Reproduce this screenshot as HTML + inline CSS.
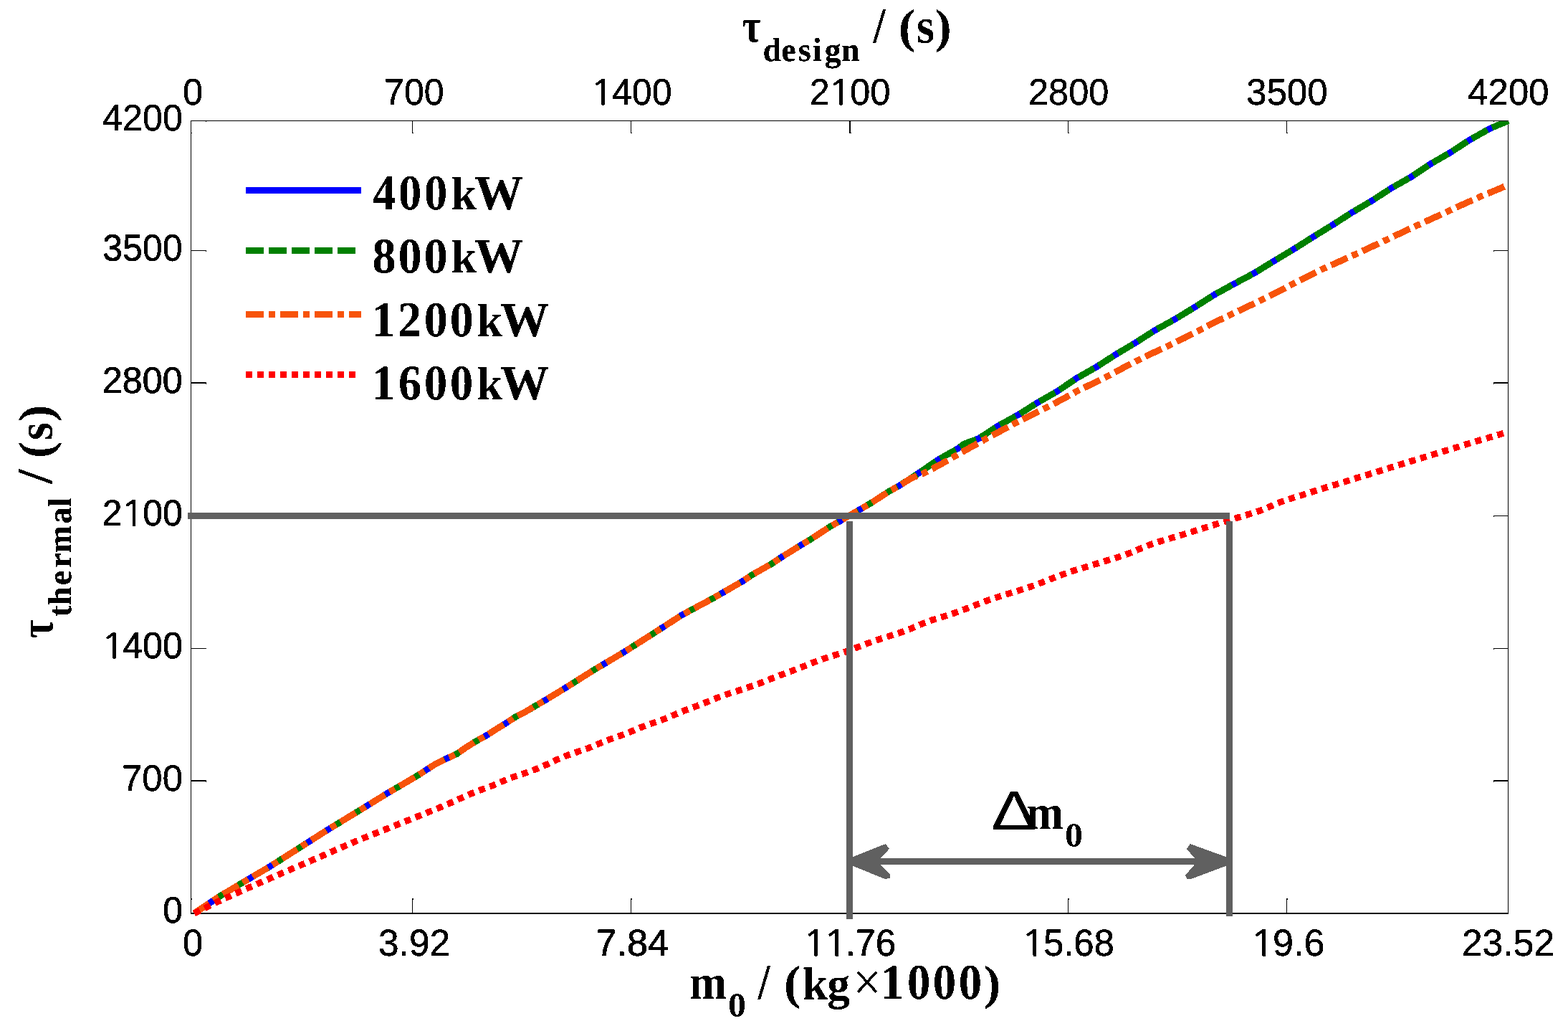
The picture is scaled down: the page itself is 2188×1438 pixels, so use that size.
<!DOCTYPE html>
<html lang="en"><head><meta charset="utf-8"><title>Thermal time vs mass</title>
<style>html,body{margin:0;padding:0;background:#fff}body{width:2188px;height:1438px;overflow:hidden}svg{display:block}</style></head>
<body>
<svg xmlns="http://www.w3.org/2000/svg" width="2188" height="1438" viewBox="0 0 2188 1438">
<defs><clipPath id="cp"><rect x="255" y="169" width="1851.3" height="1120"/></clipPath><filter id="th" x="-5%" y="-5%" width="110%" height="110%"><feComponentTransfer><feFuncA type="discrete" tableValues="0 1"/></feComponentTransfer></filter><filter id="tb" x="-10%" y="-10%" width="120%" height="120%"><feGaussianBlur stdDeviation="0.8"/><feComponentTransfer><feFuncA type="discrete" tableValues="0 1 1 1"/></feComponentTransfer></filter><filter id="tc" x="-10%" y="-10%" width="120%" height="120%"><feGaussianBlur stdDeviation="0.6"/><feComponentTransfer><feFuncA type="discrete" tableValues="0 1 1"/></feComponentTransfer></filter></defs>
<rect width="2188" height="1438" fill="#fff"/>
<g fill="#000" shape-rendering="crispEdges">
<rect x="266" y="168" width="1839" height="1"/>
<rect x="266" y="168" width="1" height="1106"/>
<rect x="2104" y="168" width="1" height="1107"/>
<rect x="266" y="1273" width="1839" height="2"/>
<rect x="575" y="169" width="1" height="17"/>
<rect x="576" y="185" width="1" height="1"/>
<rect x="575" y="1253" width="1" height="20"/>
<rect x="576" y="1253" width="1" height="2"/>
<rect x="880" y="169" width="1" height="17"/>
<rect x="881" y="185" width="1" height="1"/>
<rect x="880" y="1253" width="1" height="20"/>
<rect x="881" y="1253" width="1" height="2"/>
<rect x="1185" y="169" width="2" height="17"/>
<rect x="1187" y="185" width="1" height="1"/>
<rect x="1185" y="1253" width="2" height="20"/>
<rect x="1187" y="1253" width="1" height="2"/>
<rect x="1490" y="169" width="1" height="17"/>
<rect x="1491" y="185" width="1" height="1"/>
<rect x="1490" y="1253" width="1" height="20"/>
<rect x="1491" y="1253" width="1" height="2"/>
<rect x="1795" y="169" width="1" height="17"/>
<rect x="1796" y="185" width="1" height="1"/>
<rect x="1795" y="1253" width="1" height="20"/>
<rect x="1796" y="1253" width="1" height="2"/>
<rect x="267" y="185" width="1" height="1"/>
<rect x="267" y="1253" width="1" height="2"/>
<rect x="287" y="169" width="1" height="1"/>
<rect x="2084" y="169" width="1" height="1"/>
<rect x="267" y="349" width="21" height="1"/>
<rect x="287" y="350" width="1" height="1"/>
<rect x="2084" y="349" width="20" height="1"/>
<rect x="2084" y="350" width="1" height="1"/>
<rect x="267" y="533" width="21" height="2"/>
<rect x="287" y="535" width="1" height="1"/>
<rect x="2084" y="533" width="20" height="2"/>
<rect x="2084" y="535" width="1" height="1"/>
<rect x="267" y="719" width="21" height="1"/>
<rect x="287" y="720" width="1" height="1"/>
<rect x="2084" y="719" width="20" height="1"/>
<rect x="2084" y="720" width="1" height="1"/>
<rect x="267" y="904" width="21" height="1"/>
<rect x="2084" y="904" width="20" height="1"/>
<rect x="2084" y="905" width="1" height="1"/>
<rect x="267" y="1088" width="21" height="2"/>
<rect x="287" y="1090" width="1" height="1"/>
<rect x="2084" y="1088" width="20" height="2"/>
<rect x="2084" y="1090" width="1" height="1"/>
</g>
<g fill="none" stroke-width="9" stroke-linejoin="round" shape-rendering="crispEdges" clip-path="url(#cp)">
<polyline stroke="#0000ff" points="271.0,1273.8 307.6,1249.5 335.0,1233.1 377.0,1208.4 417.3,1182.8 457.5,1157.2 499.6,1131.6 539.8,1106.9 581.9,1082.2 607.5,1065.7 622.9,1058.1 637.2,1051.7 651.2,1041.9 664.4,1033.7 678.5,1026.0 691.5,1017.6 705.6,1009.0 718.9,1000.2 733.5,992.6 746.9,984.7 761.0,976.5 788.5,959.8 829.3,934.1 870.5,909.7 911.6,883.6 951.8,857.6 993.9,835.1 1035.7,811.0 1049.3,801.9 1076.7,786.4 1090.4,777.2 1117.9,760.2 1131.6,752.0 1158.1,734.6 1171.8,726.9 1200.2,710.5 1213.9,702.6 1241.3,684.9 1255.0,677.4 1282.5,659.6 1294.3,651.4 1309.0,641.3 1336.4,625.8 1345.6,619.0 1365.7,611.7 1393.1,593.8 1420.0,579.1 1447.6,561.7 1475.4,545.8 1501.9,527.8 1529.9,511.9 1556.9,494.5 1584.4,478.1 1611.6,460.7 1639.6,445.2 1667.4,428.3 1694.1,411.3 1722.3,395.8 1750.8,380.6 1777.8,364.0 1805.4,347.5 1832.8,330.2 1860.2,313.3 1886.7,296.3 1914.5,279.9 1941.4,262.5 1969.4,246.6 1996.3,228.6 2023.9,212.7 2050.5,195.3 2078.7,179.5 2090.8,174.3 2104.8,168.6"/>
<polyline stroke="#008000" stroke-dasharray="25.072 7.020" points="271.0,1273.8 307.6,1249.5 335.0,1233.1 377.0,1208.4 417.3,1182.8 457.5,1157.2 499.6,1131.6 539.8,1106.9 581.9,1082.2 607.5,1065.7 622.9,1058.1 637.2,1051.7 651.2,1041.9 664.4,1033.7 678.5,1026.0 691.5,1017.6 705.6,1009.0 718.9,1000.2 733.5,992.6 746.9,984.7 761.0,976.5 788.5,959.8 829.3,934.1 870.5,909.7 911.6,883.6 951.8,857.6 993.9,835.1 1035.7,811.0 1049.3,801.9 1076.7,786.4 1090.4,777.2 1117.9,760.2 1131.6,752.0 1158.1,734.6 1171.8,726.9 1200.2,710.5 1213.9,702.6 1241.3,684.9 1255.0,677.4 1282.5,659.6 1294.3,651.4 1309.0,641.3 1336.4,625.8 1345.6,619.0 1365.7,611.7 1393.1,593.8 1420.0,579.1 1447.6,561.7 1475.4,545.8 1501.9,527.8 1529.9,511.9 1556.9,494.5 1584.4,478.1 1611.6,460.7 1639.6,445.2 1667.4,428.3 1694.1,411.3 1722.3,395.8 1750.8,380.6 1777.8,364.0 1805.4,347.5 1832.8,330.2 1860.2,313.3 1886.7,296.3 1914.5,279.9 1941.4,262.5 1969.4,246.6 1996.3,228.6 2023.9,212.7 2050.5,195.3 2078.7,179.5 2090.8,174.3 2104.8,168.6 2109.0,166.9"/>
<polyline stroke="#f7530a" stroke-dasharray="25.052 7.015 9.019 7.015" points="271.0,1273.8 307.6,1249.5 335.0,1233.1 377.0,1208.4 417.3,1182.8 457.5,1157.2 499.6,1131.6 539.8,1106.9 581.9,1082.2 607.5,1065.7 622.9,1058.1 637.2,1051.7 651.2,1041.9 664.4,1033.7 678.5,1026.0 691.5,1017.6 705.6,1009.0 718.9,1000.2 733.5,992.6 746.9,984.7 761.0,976.5 788.5,959.8 829.3,934.1 870.5,909.7 911.6,883.6 951.8,857.6 993.9,835.1 1035.7,811.0 1049.3,801.9 1076.7,786.4 1090.4,777.2 1117.9,760.2 1131.6,752.0 1158.1,734.6 1171.8,726.9 1200.2,710.5 1213.9,702.6 1241.3,684.9 1255.0,677.4 1272.4,666.5 1290.7,659.3 1311.7,648.2 1332.8,636.1 1354.7,623.8 1375.7,612.2 1396.8,600.8 1417.2,590.0 1439.3,578.9 1460.4,568.5 1482.3,556.9 1502.4,545.9 1525.3,534.7 1546.3,524.4 1567.4,513.0 1588.4,502.1 1610.3,491.6 1631.9,481.5 1653.3,471.1 1674.9,459.9 1696.3,449.0 1718.2,438.4 1740.2,428.0 1761.8,417.8 1781.0,408.1 1803.9,396.1 1825.8,384.9 1846.9,374.7 1869.7,364.4 1891.3,354.7 1912.7,344.8 1934.7,334.5 1956.6,324.1 1978.6,313.9 2000.0,304.1 2022.5,293.9 2044.0,283.9 2066.4,273.9 2088.3,264.9 2100.6,259.6"/>
<polyline stroke="#ff0000" stroke-dasharray="9.013 7.010" points="271.0,1273.8 303.0,1258.1 333.2,1244.3 361.5,1231.8 391.7,1218.6 421.0,1206.1 450.2,1193.5 479.5,1180.6 508.7,1168.3 538.9,1156.4 569.1,1144.3 598.4,1132.5 612.8,1126.7 627.8,1120.3 642.4,1113.6 656.8,1107.2 671.9,1101.4 687.4,1095.7 701.7,1089.5 716.5,1083.6 732.1,1078.5 747.2,1073.1 761.9,1066.8 776.0,1060.1 790.6,1053.9 806.0,1048.6 821.7,1043.2 836.1,1037.2 850.6,1031.4 865.8,1026.0 881.1,1020.1 895.5,1014.1 910.6,1008.6 925.8,1003.3 940.6,997.1 955.0,991.1 970.4,985.5 985.8,979.4 1000.0,973.6 1015.5,968.0 1030.3,963.2 1045.7,958.2 1060.4,953.0 1075.9,946.8 1090.5,941.1 1105.7,935.5 1120.7,929.7 1135.3,923.8 1150.3,918.4 1165.5,913.6 1180.2,908.9 1196.1,902.9 1210.7,897.3 1226.4,891.8 1241.4,887.0 1257.0,882.1 1272.2,876.3 1286.2,870.3 1301.4,864.6 1316.8,859.9 1332.0,855.0 1347.1,849.4 1361.8,843.7 1376.8,838.0 1392.0,832.8 1407.4,828.0 1422.4,823.4 1438.0,818.3 1453.2,812.7 1468.2,806.8 1482.8,801.2 1498.0,796.0 1513.5,791.4 1528.5,786.8 1544.2,782.0 1559.6,777.3 1574.8,772.1 1589.4,766.0 1604.0,760.0 1619.2,754.9 1634.6,750.3 1650.3,745.7 1665.7,741.0 1680.9,736.1 1696.4,731.3 1711.0,726.9 1726.6,722.1 1742.5,717.3 1757.7,712.4 1772.1,706.5 1786.9,700.3 1802.4,695.0 1817.6,690.3 1832.8,685.4 1848.2,680.6 1863.7,675.9 1878.9,671.2 1894.1,666.4 1909.6,661.8 1925.0,657.0 1940.3,652.1 1955.7,647.4 1971.1,642.7 1986.4,638.0 2001.8,633.3 2017.0,628.7 2032.5,624.0 2047.7,619.2 2063.1,614.6 2078.6,610.0 2094.2,605.5 2100.6,603.6"/>
</g>
<g shape-rendering="crispEdges">
<rect x="343" y="261" width="161" height="9" fill="#0000ff"/>
<rect x="343" y="345" width="25" height="9" fill="#008000"/>
<rect x="375" y="345" width="25" height="9" fill="#008000"/>
<rect x="407" y="345" width="25" height="9" fill="#008000"/>
<rect x="439" y="345" width="25" height="9" fill="#008000"/>
<rect x="471" y="345" width="25" height="9" fill="#008000"/>
<rect x="343" y="434" width="25" height="9" fill="#f7530a"/>
<rect x="375" y="434" width="9" height="9" fill="#f7530a"/>
<rect x="391" y="434" width="25" height="9" fill="#f7530a"/>
<rect x="423" y="434" width="9" height="9" fill="#f7530a"/>
<rect x="439" y="434" width="25" height="9" fill="#f7530a"/>
<rect x="471" y="434" width="9" height="9" fill="#f7530a"/>
<rect x="487" y="434" width="17" height="9" fill="#f7530a"/>
<rect x="343" y="518" width="9" height="9" fill="#ff0000"/>
<rect x="359" y="518" width="9" height="9" fill="#ff0000"/>
<rect x="375" y="518" width="9" height="9" fill="#ff0000"/>
<rect x="391" y="518" width="9" height="9" fill="#ff0000"/>
<rect x="407" y="518" width="9" height="9" fill="#ff0000"/>
<rect x="423" y="518" width="9" height="9" fill="#ff0000"/>
<rect x="439" y="518" width="9" height="9" fill="#ff0000"/>
<rect x="455" y="518" width="9" height="9" fill="#ff0000"/>
<rect x="471" y="518" width="9" height="9" fill="#ff0000"/>
<rect x="487" y="518" width="9" height="9" fill="#ff0000"/>
</g>
<g fill="#606060" shape-rendering="crispEdges">
<rect x="262" y="715" width="1454" height="9"/>
<rect x="1181" y="727" width="9" height="555"/>
<rect x="1711" y="727" width="9" height="551"/>
<rect x="1215" y="1197" width="470" height="9"/>
<polygon points="1190,1195.2 1235.8,1177 1241,1183.9 1228.5,1197.3 1228.5,1205.6 1241.9,1219.2 1241.9,1225.1 1234.4,1225.8 1190,1207.7"/>
<polygon points="1711,1195.2 1660.6,1177 1656.1,1184.1 1667.2,1197.3 1667.2,1205.6 1654,1220.9 1656.1,1225.8 1662.7,1225.8 1711,1207.7"/>
</g>
<g font-size="100" fill="#000" style="font-kerning:none;text-rendering:geometricPrecision">
<text transform="matrix(0.5056 0.0003 0 0.5195 255.08 146.07)" font-family="'Liberation Sans', sans-serif" font-weight="normal" filter="url(#tb)">0</text>
<text transform="matrix(0.5020 0.0003 0 0.5195 535.95 146.07)" font-family="'Liberation Sans', sans-serif" font-weight="normal" filter="url(#tb)">700</text>
<text transform="matrix(0.5561 0.0003 0 0.4851 823.07 146.25)" font-family="NanumGothic, 'Liberation Sans', sans-serif" font-weight="normal" filter="url(#tb)">1</text>
<text transform="matrix(0.5005 0.0003 0 0.5195 854.11 146.07)" font-family="'Liberation Sans', sans-serif" font-weight="normal" filter="url(#tb)">400</text>
<text transform="matrix(0.4968 0.0003 0 0.5195 1129.85 146.07)" font-family="'Liberation Sans', sans-serif" font-weight="normal" filter="url(#tb)">2</text>
<text transform="matrix(0.5616 0.0003 0 0.4851 1154.79 146.25)" font-family="NanumGothic, 'Liberation Sans', sans-serif" font-weight="normal" filter="url(#tb)">1</text>
<text transform="matrix(0.5093 0.0003 0 0.5195 1185.93 146.07)" font-family="'Liberation Sans', sans-serif" font-weight="normal" filter="url(#tb)">00</text>
<text transform="matrix(0.5055 0.0003 0 0.5195 1434.96 146.07)" font-family="'Liberation Sans', sans-serif" font-weight="normal" filter="url(#tb)">2800</text>
<text transform="matrix(0.5110 0.0003 0 0.5195 1739.14 146.07)" font-family="'Liberation Sans', sans-serif" font-weight="normal" filter="url(#tb)">3500</text>
<text transform="matrix(0.5094 0.0003 0 0.5195 2048.20 146.07)" font-family="'Liberation Sans', sans-serif" font-weight="normal" filter="url(#tb)">4200</text>
<text transform="matrix(0.5056 0.0003 0 0.5250 255.08 1332.97)" font-family="'Liberation Sans', sans-serif" font-weight="normal" filter="url(#tb)">0</text>
<text transform="matrix(0.5144 0.0003 0 0.5250 527.94 1332.97)" font-family="'Liberation Sans', sans-serif" font-weight="normal" filter="url(#tb)">3.92</text>
<text transform="matrix(0.5229 0.0003 0 0.5250 831.49 1332.97)" font-family="'Liberation Sans', sans-serif" font-weight="normal" filter="url(#tb)">7.84</text>
<text transform="matrix(0.5633 0.0003 0 0.4969 1119.77 1333.33)" font-family="NanumGothic, 'Liberation Sans', sans-serif" font-weight="normal" filter="url(#tb)">1</text>
<text transform="matrix(0.5885 0.0003 0 0.4969 1147.99 1333.33)" font-family="NanumGothic, 'Liberation Sans', sans-serif" font-weight="normal" filter="url(#tb)">1</text>
<text transform="matrix(0.5067 0.0003 0 0.5250 1179.64 1332.97)" font-family="'Liberation Sans', sans-serif" font-weight="normal" filter="url(#tb)">.76</text>
<text transform="matrix(0.5905 0.0003 0 0.4969 1424.04 1333.33)" font-family="NanumGothic, 'Liberation Sans', sans-serif" font-weight="normal" filter="url(#tb)">1</text>
<text transform="matrix(0.5065 0.0003 0 0.5250 1456.18 1332.97)" font-family="'Liberation Sans', sans-serif" font-weight="normal" filter="url(#tb)">5.68</text>
<text transform="matrix(0.6041 0.0003 0 0.4969 1743.54 1333.33)" font-family="NanumGothic, 'Liberation Sans', sans-serif" font-weight="normal" filter="url(#tb)">1</text>
<text transform="matrix(0.5203 0.0003 0 0.5250 1776.02 1332.97)" font-family="'Liberation Sans', sans-serif" font-weight="normal" filter="url(#tb)">9.6</text>
<text transform="matrix(0.5168 0.0003 0 0.5250 2039.80 1332.97)" font-family="'Liberation Sans', sans-serif" font-weight="normal" filter="url(#tb)">23.52</text>
<text transform="matrix(0.5029 0.0003 0 0.5195 142.93 182.07)" font-family="'Liberation Sans', sans-serif" font-weight="normal" filter="url(#tb)">4200</text>
<text transform="matrix(0.5022 0.0003 0 0.5236 143.09 363.48)" font-family="'Liberation Sans', sans-serif" font-weight="normal" filter="url(#tb)">3500</text>
<text transform="matrix(0.5036 0.0003 0 0.5209 142.65 548.17)" font-family="'Liberation Sans', sans-serif" font-weight="normal" filter="url(#tb)">2800</text>
<text transform="matrix(0.4968 0.0003 0 0.5153 142.65 733.09)" font-family="'Liberation Sans', sans-serif" font-weight="normal" filter="url(#tb)">2</text>
<text transform="matrix(0.5868 0.0003 0 0.4877 167.38 733.45)" font-family="NanumGothic, 'Liberation Sans', sans-serif" font-weight="normal" filter="url(#tb)">1</text>
<text transform="matrix(0.4980 0.0003 0 0.5153 199.33 733.09)" font-family="'Liberation Sans', sans-serif" font-weight="normal" filter="url(#tb)">00</text>
<text transform="matrix(0.5815 0.0003 0 0.4864 140.06 918.35)" font-family="NanumGothic, 'Liberation Sans', sans-serif" font-weight="normal" filter="url(#tb)">1</text>
<text transform="matrix(0.5010 0.0003 0 0.5209 171.34 918.17)" font-family="'Liberation Sans', sans-serif" font-weight="normal" filter="url(#tb)">400</text>
<text transform="matrix(0.5095 0.0003 0 0.5153 169.94 1103.09)" font-family="'Liberation Sans', sans-serif" font-weight="normal" filter="url(#tb)">700</text>
<text transform="matrix(0.4955 0.0003 0 0.5195 227.38 1287.07)" font-family="'Liberation Sans', sans-serif" font-weight="normal" filter="url(#tb)">0</text>
<text transform="matrix(0.6455 0.0003 0 0.6995 521.70 292.20)" x="-2.67 53.08 108.86" font-family="'Liberation Serif', serif" font-weight="bold" filter="url(#th)">400</text>
<text transform="matrix(0.6415 0.0003 0 0.6519 629.40 292.10)" font-family="'Liberation Serif', serif" font-weight="bold" filter="url(#th)">k</text>
<text transform="matrix(0.6804 0.0003 0 0.6832 662.09 291.76)" font-family="'Liberation Serif', serif" font-weight="bold" filter="url(#th)">W</text>
<text transform="matrix(0.6622 0.0003 0 0.6995 521.70 380.40)" x="-3.56 51.11 105.48" font-family="'Liberation Serif', serif" font-weight="bold" filter="url(#th)">800</text>
<text transform="matrix(0.6415 0.0003 0 0.6519 629.40 380.30)" font-family="'Liberation Serif', serif" font-weight="bold" filter="url(#th)">k</text>
<text transform="matrix(0.6804 0.0003 0 0.6832 662.09 379.96)" font-family="'Liberation Serif', serif" font-weight="bold" filter="url(#th)">W</text>
<text transform="matrix(0.6624 0.0003 0 0.7010 524.80 469.20)" x="-9.58 45.65 100.75 154.94" font-family="'Liberation Serif', serif" font-weight="bold" filter="url(#th)">1200</text>
<text transform="matrix(0.6472 0.0003 0 0.6534 665.19 469.10)" font-family="'Liberation Serif', serif" font-weight="bold" filter="url(#th)">k</text>
<text transform="matrix(0.6845 0.0003 0 0.6847 697.89 468.76)" font-family="'Liberation Serif', serif" font-weight="bold" filter="url(#th)">W</text>
<text transform="matrix(0.6471 0.0003 0 0.6995 524.80 557.30)" x="-9.18 47.93 103.73 159.21" font-family="'Liberation Serif', serif" font-weight="bold" filter="url(#th)">1600</text>
<text transform="matrix(0.6472 0.0003 0 0.6519 665.19 557.20)" font-family="'Liberation Serif', serif" font-weight="bold" filter="url(#th)">k</text>
<text transform="matrix(0.6845 0.0003 0 0.6832 697.89 556.86)" font-family="'Liberation Serif', serif" font-weight="bold" filter="url(#th)">W</text>
<text transform="matrix(0.5651 0.0003 0 0.6638 1035.57 58.54)" font-family="'Liberation Serif', serif" font-weight="bold" filter="url(#th)">τ</text>
<text transform="matrix(0.4564 0.0003 0 0.4651 1066.90 85.13)" x="-5.17 51.24 103.26 146.94 183.76 234.94" font-family="'Liberation Serif', serif" font-weight="bold" filter="url(#tc)">design</text>
<text transform="matrix(0.6101 0.0003 0 0.7000 1218.51 59.20)" font-family="'Liberation Serif', serif" font-weight="bold" filter="url(#th)">/</text>
<text transform="matrix(0.7130 0.0003 0 0.6653 1253.71 59.13)" font-family="'Liberation Serif', serif" font-weight="bold" filter="url(#th)">(</text>
<text transform="matrix(0.6480 0.0003 0 0.6938 1278.76 59.51)" font-family="'Liberation Serif', serif" font-weight="bold" filter="url(#th)">s</text>
<text transform="matrix(0.7013 0.0003 0 0.6653 1304.46 59.13)" font-family="'Liberation Serif', serif" font-weight="bold" filter="url(#th)">)</text>
<text transform="matrix(0.6228 0.0003 0 0.6851 962.24 1393.00)" font-family="'Liberation Serif', serif" font-weight="bold" filter="url(#th)">m</text>
<text transform="matrix(0.4992 0.0003 0 0.4752 1016.07 1417.62)" font-family="'Liberation Serif', serif" font-weight="bold" filter="url(#th)">0</text>
<text transform="matrix(0.6067 0.0003 0 0.7060 1057.61 1393.29)" font-family="'Liberation Serif', serif" font-weight="bold" filter="url(#th)">/</text>
<text transform="matrix(0.7130 0.0003 0 0.6710 1093.81 1393.26)" font-family="'Liberation Serif', serif" font-weight="bold" filter="url(#th)">(</text>
<text transform="matrix(0.6352 0.0003 0 0.6423 1121.00 1393.77)" x="-2.15 52.25" font-family="'Liberation Serif', serif" font-weight="bold" filter="url(#th)">kg</text>
<text transform="matrix(0.6992 0.0003 0 0.7555 1190.31 1394.93)" font-family="'Liberation Serif', serif" font-weight="normal" filter="url(#th)">×</text>
<text transform="matrix(0.6516 0.0003 0 0.7025 1234.80 1393.30)" x="-9.15 47.43 102.53 157.85" font-family="'Liberation Serif', serif" font-weight="bold" filter="url(#th)">1000</text>
<text transform="matrix(0.7091 0.0003 0 0.6710 1372.64 1393.26)" font-family="'Liberation Serif', serif" font-weight="bold" filter="url(#th)">)</text>
<text transform="matrix(0.0003 -0.5581 0.6660 0 73.43 890.02)" font-family="'Liberation Serif', serif" font-weight="bold" filter="url(#th)">τ</text>
<text transform="matrix(0.0003 -0.4605 0.4659 0 99.20 858.90)" x="-2.35 32.20 93.02 145.90 190.07 278.93 329.53" font-family="'Liberation Serif', serif" font-weight="bold" filter="url(#tc)">thermal</text>
<text transform="matrix(0.0003 -0.7311 0.7015 0 72.20 674.81)" font-family="'Liberation Serif', serif" font-weight="bold" filter="url(#th)">/</text>
<text transform="matrix(0.0003 -0.6974 0.6653 0 72.03 639.12)" font-family="'Liberation Serif', serif" font-weight="bold" filter="url(#th)">(</text>
<text transform="matrix(0.0003 -0.6450 0.6958 0 72.50 614.13)" font-family="'Liberation Serif', serif" font-weight="bold" filter="url(#th)">s</text>
<text transform="matrix(0.0003 -0.7052 0.6653 0 72.03 588.25)" font-family="'Liberation Serif', serif" font-weight="bold" filter="url(#th)">)</text>
<text transform="matrix(0.9560 0.0003 0 0.7681 1383.03 1156.90)" font-family="'Liberation Sans', sans-serif" font-weight="normal" filter="url(#th)">Δ</text>
<text transform="matrix(0.6203 0.0003 0 0.6851 1432.35 1156.20)" font-family="'Liberation Serif', serif" font-weight="bold" filter="url(#th)">m</text>
<text transform="matrix(0.4969 0.0003 0 0.4738 1486.08 1180.53)" font-family="'Liberation Serif', serif" font-weight="bold" filter="url(#th)">0</text>
</g>
</svg>
</body></html>
